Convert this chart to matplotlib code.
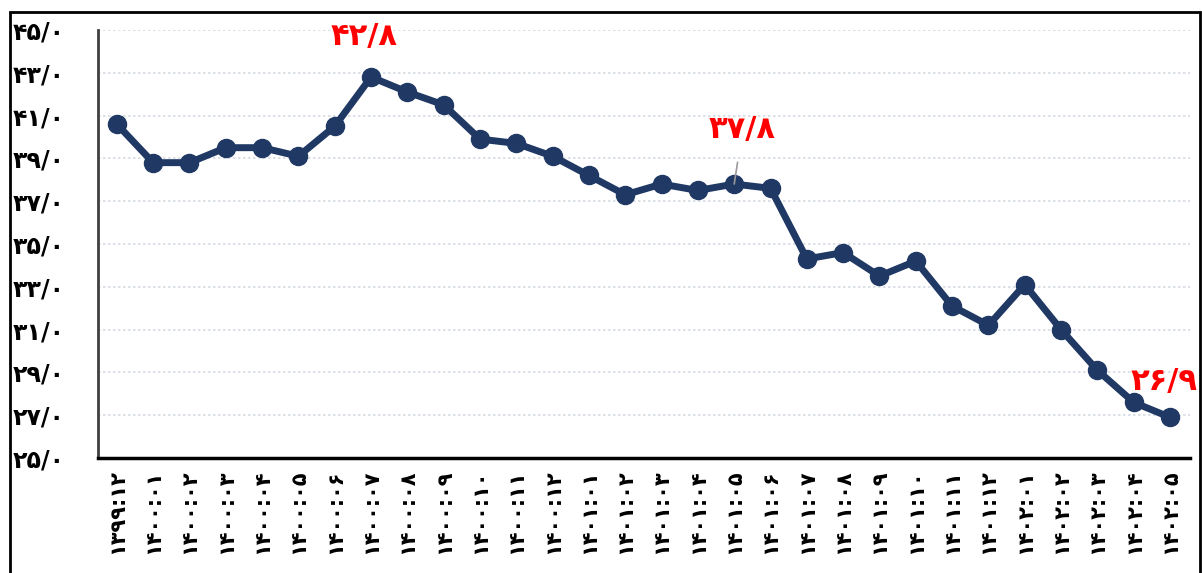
"""
Monthly series 1399:12 - 1402:05, recreated line chart
"""

import matplotlib.pyplot as plt
from matplotlib.patches import Rectangle

FA = str.maketrans("0123456789.", "۰۱۲۳۴۵۶۷۸۹/")

months = (["1399:12"]
          + [f"1400:{m:02d}" for m in range(1, 13)]
          + [f"1401:{m:02d}" for m in range(1, 13)]
          + [f"1402:{m:02d}" for m in range(1, 6)])

values = [40.6, 38.8, 38.8, 39.5, 39.5, 39.1, 40.5, 42.8, 42.1, 41.5,
          39.9, 39.7, 39.1, 38.2, 37.3, 37.8, 37.5, 37.8, 37.6, 34.3,
          34.6, 33.5, 34.2, 32.1, 31.2, 33.1, 31.0, 29.1, 27.6, 26.9]

y_ticks = [25, 27, 29, 31, 33, 35, 37, 39, 41, 43, 45]

# index of labelled points
labelled = [7, 17, 29]


def fa(s):
    return s.translate(FA)


fig = plt.figure(figsize=(12.02, 5.73), dpi=100)
ax = fig.add_axes([0.0815, 0.2007, 0.9085, 0.747])

x = list(range(len(values)))
ax.plot(x, values, color="#1F3864", lw=5, marker="o", markersize=13,
        markerfacecolor="#1F3864", markeredgecolor="#1F3864", zorder=3,
        solid_joinstyle="round")

ax.set_xlim(-0.52, len(values) - 0.45)
ax.set_ylim(25, 45)
ax.set_yticks(y_ticks)
ax.set_yticklabels([fa(f"{v}.0") for v in y_ticks], fontsize=17, fontweight="bold")
ax.set_xticks(x)
ax.set_xticklabels([fa(m) for m in months], rotation=90, fontsize=15,
                   fontweight="bold", va="top")
ax.tick_params(axis="y", length=0, pad=24)
ax.tick_params(axis="x", length=0, pad=8)

ax.grid(axis="y", color="#d5dae3", linestyle=(0, (1.5, 1.5)), lw=1.2)
ax.set_axisbelow(True)
for s in ["top", "right"]:
    ax.spines[s].set_visible(False)
ax.spines["left"].set_color("#404040")
ax.spines["left"].set_linewidth(2)
ax.spines["bottom"].set_color("black")
ax.spines["bottom"].set_linewidth(2.5)

# value labels
lab = dict(textcoords="offset points", ha="center", va="center",
           color="red", fontsize=22, fontweight="bold")
i = labelled[0]
ax.annotate(fa(f"{values[i]:.1f}"), (i, values[i]), xytext=(-5, 29), **lab)
i = labelled[1]
ax.annotate(fa(f"{values[i]:.1f}"), (i, values[i]), xytext=(6, 39),
            arrowprops=dict(arrowstyle="-", color="#999999", lw=1.2,
                            shrinkA=11, shrinkB=0), **lab)
i = labelled[2]
ax.annotate(fa(f"{values[i]:.1f}"), (i, values[i]), xytext=(-4, 26), **lab)

# outer frame
fig.patches.append(Rectangle((10 / 1202, -0.1), 1190 / 1202, 1.1 - 12 / 573,
                             transform=fig.transFigure, fill=False,
                             edgecolor="black", lw=2))

fig.savefig("out.png", dpi=100)
